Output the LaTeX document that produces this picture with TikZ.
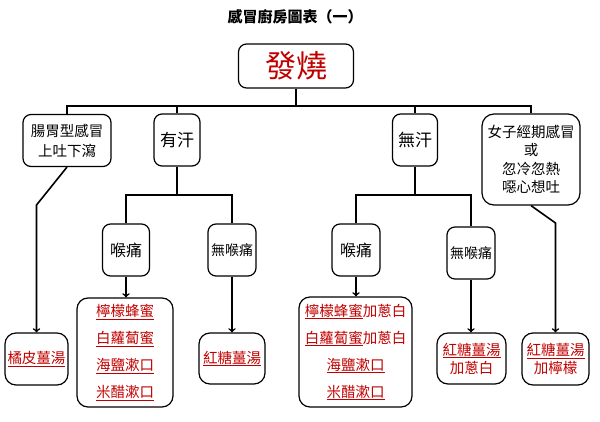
\documentclass[tikz,border=0pt]{standalone}
\usepackage{fontspec}
\usepackage{tikz}
\newfontfamily\cjk{Noto Sans CJK TC}
\definecolor{darkred}{RGB}{192,0,0}
\newcommand{\lnk}[1]{\underline{#1}}

\begin{document}
\begin{tikzpicture}[x=1pt, y=-1pt,
  box/.style={draw, line width=1.2pt, rounded corners=8pt, align=center, inner sep=0pt,
    font=\cjk\fontsize{14.5}{20}\selectfont},
  cure/.style={box, text=darkred, rounded corners=11pt},
  link/.style={line width=1.6pt},
  >=to]

\useasboundingbox (0,0) rectangle (600,422);

% title
\node (title) at (295,17) {\cjk\bfseries\fontsize{15}{15}\selectfont 感冒廚房圖表（一）};

% top
\node [box, text=darkred, minimum width=115pt, minimum height=44pt,
  font=\cjk\fontsize{31}{31}\selectfont] (fever) at (296,66) {發燒};

% first level
\node [box, minimum width=88pt, minimum height=52pt] (gut) at (67,140.5) {腸胃型感冒\\上吐下瀉};
\node [box, minimum width=46pt, minimum height=52pt, font=\cjk\fontsize{17}{20}\selectfont] (sweat) at (177,140) {有汗};
\node [box, minimum width=45pt, minimum height=52pt, font=\cjk\fontsize{17}{20}\selectfont] (nosweat) at (415,140) {無汗};
\node [box, minimum width=98pt, minimum height=91pt, rounded corners=12pt,
  font=\cjk\fontsize{14.5}{18.5}\selectfont] (woman) at (531,159.5) {女子經期感冒\\或\\忽冷忽熱\\噁心想吐};

% second level
\node [box, minimum width=47pt, minimum height=52pt, font=\cjk\fontsize{16}{20}\selectfont] (sore1) at (126,250) {喉痛};
\node [box, minimum width=48pt, minimum height=52pt, font=\cjk\fontsize{14}{20}\selectfont] (nosore1) at (232,250) {無喉痛};
\node [box, minimum width=48pt, minimum height=52pt, font=\cjk\fontsize{16}{20}\selectfont] (sore2) at (356,250) {喉痛};
\node [box, minimum width=48pt, minimum height=52pt, font=\cjk\fontsize{14}{20}\selectfont] (nosore2) at (471,253) {無喉痛};

% remedies
\node [cure, minimum width=63pt, minimum height=52pt] (peel) at (36.5,359) {\lnk{橘皮薑湯}};
\node [cure, minimum width=96pt, minimum height=109pt, font=\cjk\fontsize{14.5}{27}\selectfont] (rem1) at (125,352.5)
  {\lnk{檸檬蜂蜜}\\\lnk{白蘿蔔蜜}\\\lnk{海鹽漱口}\\\lnk{米醋漱口}};
\node [cure, minimum width=66pt, minimum height=51pt] (rem2) at (232,358.5) {\lnk{紅糖薑湯}};
\node [cure, minimum width=113pt, minimum height=110pt, font=\cjk\fontsize{14.5}{27}\selectfont] (rem3) at (355.5,352)
  {\lnk{檸檬蜂蜜}加蔥白\\\lnk{白蘿蔔蜜}加蔥白\\\lnk{海鹽漱口}\\\lnk{米醋漱口}};
\node [cure, minimum width=69pt, minimum height=51pt, font=\cjk\fontsize{14.5}{18}\selectfont] (rem4) at (471.5,358.5) {\lnk{紅糖薑湯}\\加蔥白};
\node [cure, minimum width=67pt, minimum height=52pt, font=\cjk\fontsize{14.5}{18}\selectfont] (rem5) at (555.5,359) {\lnk{紅糖薑湯}\\加檸檬};

% bus under the top box
\coordinate (bus) at (296,106);
\draw [link] (fever) -- (bus);
\draw [link] (gut.north) |- (bus) -| (woman.north);
\draw [link] (sweat.north) -- (sweat.north |- bus);
\draw [link] (nosweat.north) -- (nosweat.north |- bus);

% split under sweat / no sweat
\coordinate (split1) at (177,195);
\coordinate (split2) at (415,195);
\draw [link] (sweat) -- (split1);
\draw [link] (sore1.north) |- (split1) -| (nosore1.north);
\draw [link] (nosweat) -- (split2);
\draw [link] (sore2.north) |- (split2) -| (nosore2.north);

% arrows to the remedies
\draw [link, ->] (sore1.south) -- (sore1.south |- rem1.north);
\draw [link, ->] (nosore1.south) -- (nosore1.south |- rem2.north);
\draw [link, ->] (sore2.south) -- (sore2.south |- rem3.north);
\draw [link, ->] (nosore2.south) -- (nosore2.south |- rem4.north);
\coordinate (kink1) at (36.5,205);
\draw [link, ->] (gut.south) -- (kink1) -- (peel.north);
\coordinate (kink2) at (555.5,223);
\draw [link, ->] (woman.south) -- (kink2) -- (rem5.north);

\end{tikzpicture}
\end{document}
